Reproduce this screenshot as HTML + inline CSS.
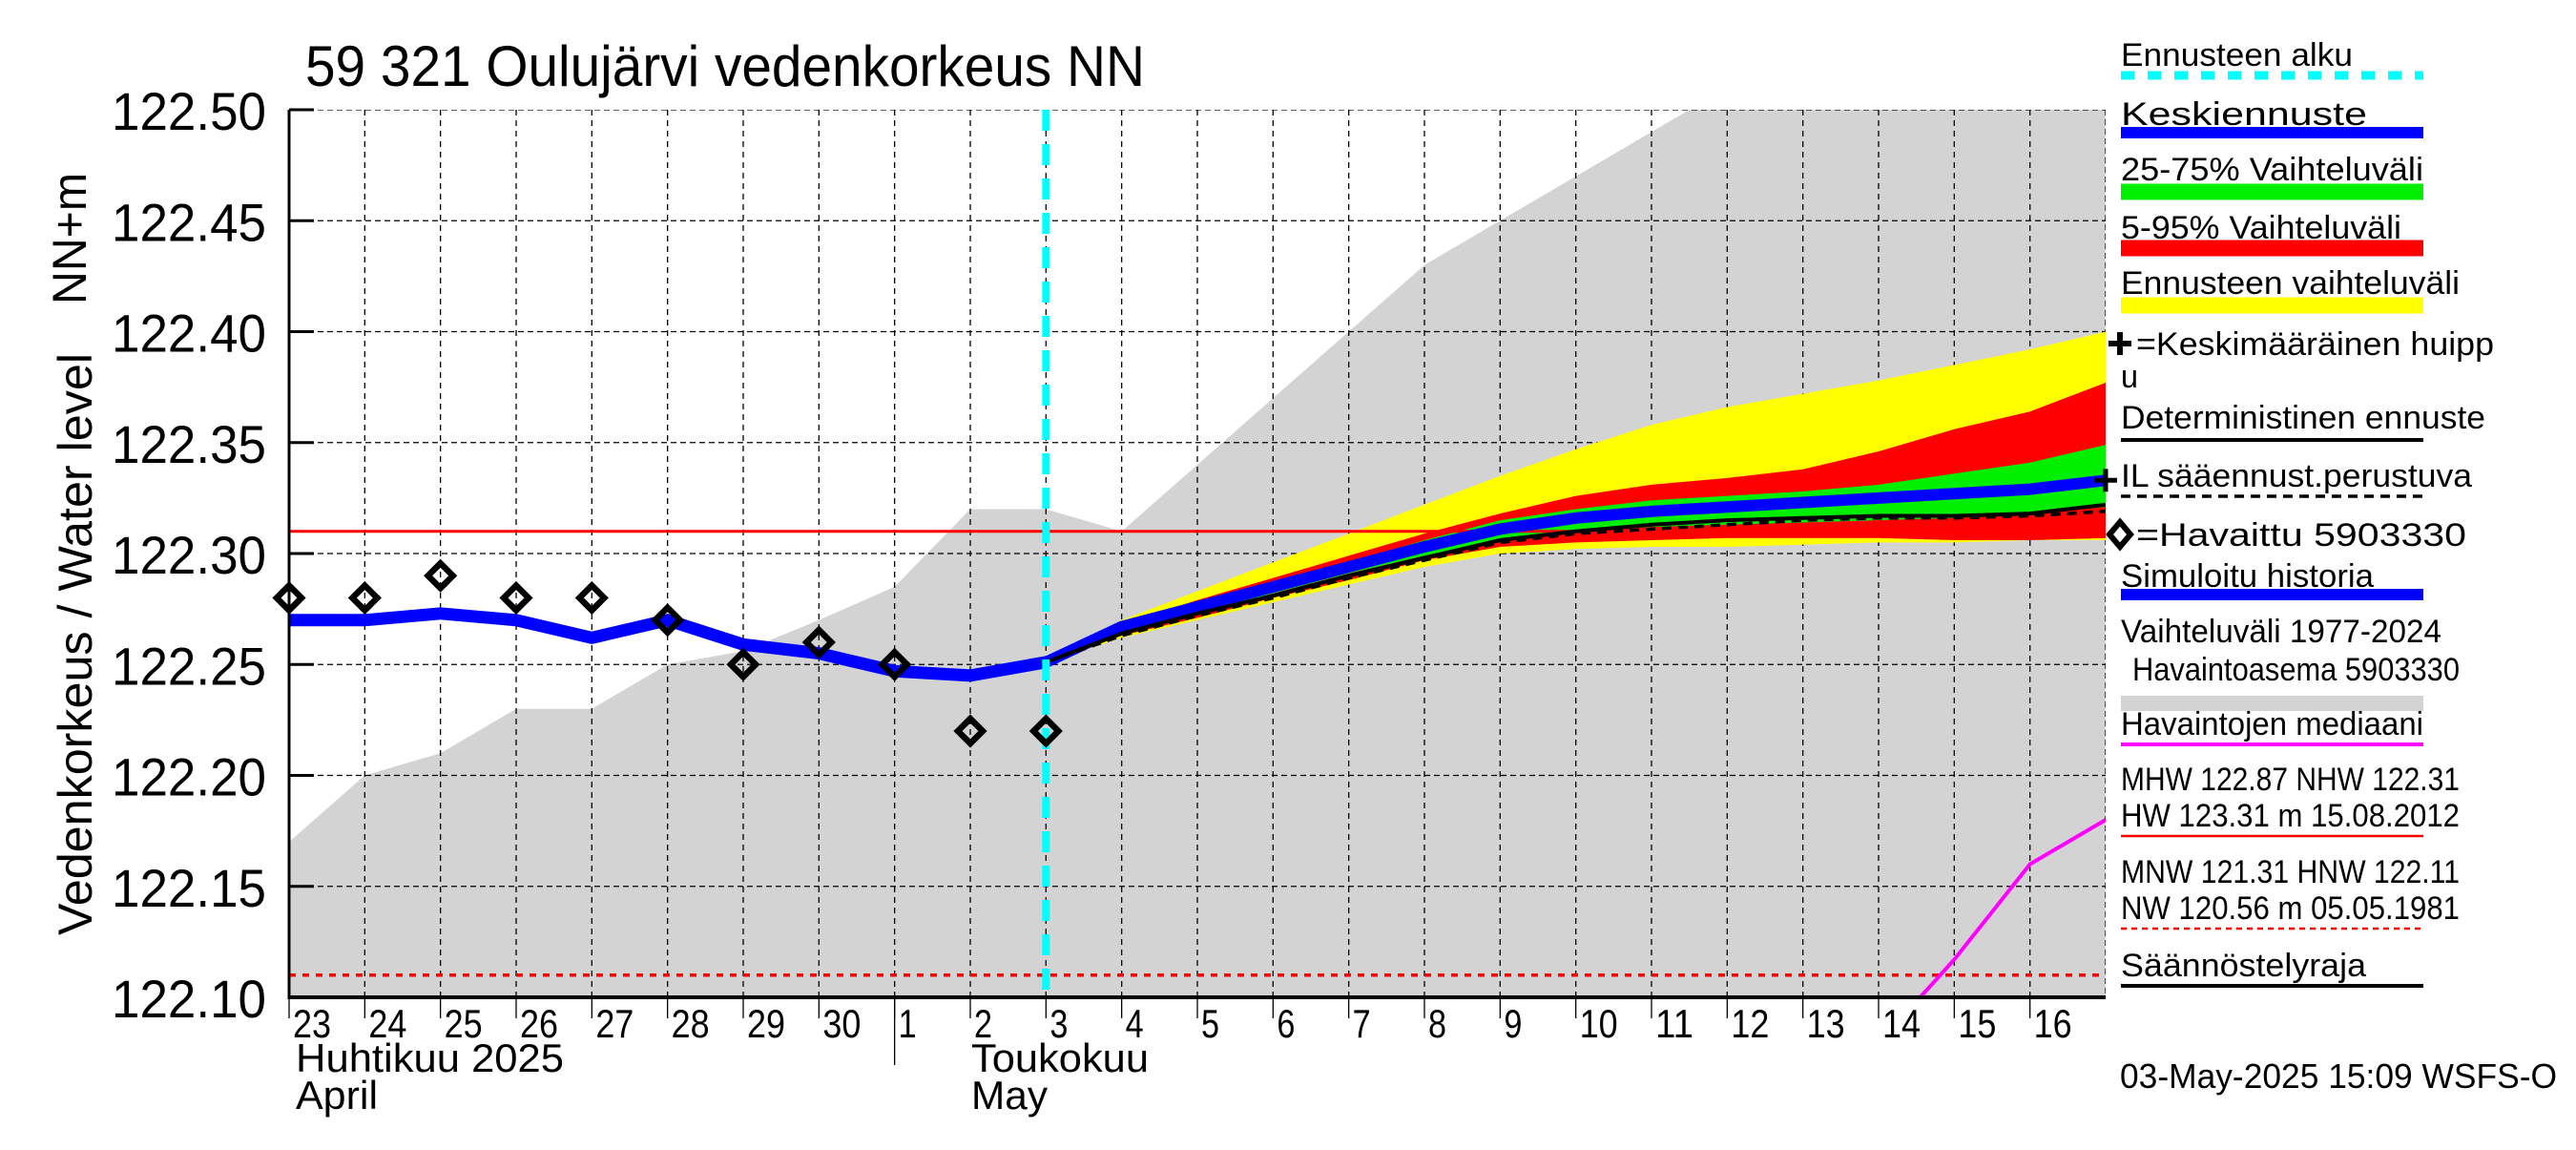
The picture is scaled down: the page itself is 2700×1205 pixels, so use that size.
<!DOCTYPE html>
<html><head><meta charset="utf-8"><style>
html,body{margin:0;padding:0;background:#fff;}
svg text{font-family:"Liberation Sans Narrow","Liberation Sans",sans-serif;fill:#000;}
</style></head><body>
<svg id="chart" width="2700" height="1200" viewBox="0 0 2700 1200" xmlns="http://www.w3.org/2000/svg">
<defs><clipPath id="plotclip"><rect x="303" y="115" width="1904" height="930"/></clipPath></defs>
<rect width="2700" height="1200" fill="#fff"/>
<text x="320" y="90" font-size="60" textLength="880" lengthAdjust="spacingAndGlyphs">59 321 Oulujärvi vedenkorkeus NN</text>
<g id="plot" clip-path="url(#plotclip)"></g>
<g id="axes"></g>
<g id="legend"></g>
<text transform="translate(96,675) rotate(-90)" text-anchor="middle" font-size="50" textLength="610" lengthAdjust="spacingAndGlyphs">Vedenkorkeus / Water level</text>
<text transform="translate(90,250) rotate(-90)" text-anchor="middle" font-size="50" textLength="138" lengthAdjust="spacingAndGlyphs">NN+m</text>
<text x="2222" y="1140" font-size="36" textLength="458" lengthAdjust="spacingAndGlyphs">03-May-2025 15:09 WSFS-O</text>
</svg>
<script>
// ---- data ----
const dayLabels = ["23","24","25","26","27","28","29","30","1","2","3","4","5","6","7","8","9","10","11","12","13","14","15","16"];
const yTicks = [122.10,122.15,122.20,122.25,122.30,122.35,122.40,122.45,122.50];
const obsValues = [122.28,122.28,122.29,122.28,122.28,122.27,122.25,122.26,122.25,122.22,122.22];
const simValues = [122.270,122.270,122.273,122.270,122.262,122.270,122.259,122.255,122.247,122.245,122.251];
const fcDays = [10,11,12,13,14,15,16,17,18,19,20,21,22,23,24];
const meanFc = [122.251,122.267,122.276,122.285,122.294,122.303,122.311,122.316,122.319,122.321,122.323,122.325,122.327,122.329,122.333];
const yellowMax = [122.251,122.270,122.283,122.296,122.309,122.322,122.335,122.347,122.358,122.366,122.372,122.378,122.385,122.392,122.400];
const yellowMin = [122.251,122.262,122.270,122.278,122.286,122.294,122.300,122.302,122.303,122.303,122.304,122.305,122.305,122.306,122.306];
const redMax = [122.251,122.268,122.279,122.289,122.299,122.309,122.318,122.326,122.331,122.334,122.338,122.346,122.356,122.364,122.377];
const redMin = [122.251,122.263,122.271,122.280,122.288,122.297,122.303,122.305,122.306,122.307,122.307,122.307,122.306,122.306,122.307];
const greenMax = [122.251,122.267,122.277,122.287,122.296,122.306,122.315,122.320,122.324,122.326,122.328,122.331,122.336,122.341,122.349];
const greenMin = [122.251,122.265,122.273,122.282,122.291,122.299,122.306,122.310,122.312,122.313,122.314,122.315,122.316,122.318,122.321];
const detFc = [122.251,122.264,122.273,122.281,122.290,122.298,122.306,122.310,122.313,122.315,122.316,122.317,122.317,122.318,122.322];
const ilFc = [122.251,122.263,122.272,122.280,122.289,122.297,122.305,122.309,122.311,122.313,122.315,122.316,122.316,122.317,122.319];
const envDays = [0,1,2,3,4,5,6,7,8,9,10,11,12,13,14,15,16,17,18,19,20,21,22,23,24];
const envUpper = [122.17,122.20,122.21,122.23,122.23,122.25,122.256,122.27,122.285,122.32,122.32,122.31,122.34,122.37,122.40,122.43,122.45,122.47,122.49,122.51,122.53,122.55,122.57,122.59,122.61];
const medianDays = [21.55,22,23,24];
const medianValues = [122.10,122.117,122.16,122.18];
const nhwLevel = 122.31;
const regLevel = 122.11;
const forecastStart = 10;
const nDays = 24;

// ---- axes ----
const X0=303, X1=2207, Y0=115, Y1=1045;
const vMin=122.10, vMax=122.50;
function xs(d){return X0 + d*(X1-X0)/nDays;}
function ys(v){return Y1 - (v-vMin)*(Y1-Y0)/(vMax-vMin);}
const NS="http://www.w3.org/2000/svg";
function mk(tag, attrs, parent){const e=document.createElementNS(NS,tag);for(const k in attrs)e.setAttribute(k,attrs[k]);parent.appendChild(e);return e;}
const plot=document.getElementById('plot'), axes=document.getElementById('axes'), legend=document.getElementById('legend');
function pts(days, vals){return days.map((d,i)=>xs(d).toFixed(1)+','+ys(vals[i]).toFixed(1)).join(' ');}
function band(days, hi, lo){return pts(days,hi)+' '+pts(days.slice().reverse(), lo.slice().reverse());}

let env = mk('polygon',{points: xs(0)+','+(Y1+5)+' '+pts(envDays,envUpper)+' '+xs(24)+','+(Y1+5), fill:'#d3d3d3'}, plot);


for(let i=1;i<nDays;i++){
  let g=mk('line',{x1:xs(i),x2:xs(i),y1:Y0,y2:Y1,stroke:'#000','stroke-width':1.3,'stroke-dasharray':'6,5'},plot);
  
  
}
yTicks.forEach(v=>{
  let g=mk('line',{x1:X0,x2:X1,y1:ys(v),y2:ys(v),stroke:'#000','stroke-width':1.3,'stroke-dasharray':'6,4'},plot);
  
  
});
let gr=mk('line',{x1:X1,x2:X1,y1:Y0,y2:Y1,stroke:'#000','stroke-width':1.3,'stroke-dasharray':'6,4'},plot);


let b1=mk('polygon',{points:band(fcDays,yellowMax,yellowMin),fill:'#ffff00'},plot);


let b2=mk('polygon',{points:band(fcDays,redMax,redMin),fill:'#ff0000'},plot);


let b3=mk('polygon',{points:band(fcDays,greenMax,greenMin),fill:'#00ee00'},plot);


let nhw=mk('line',{x1:X0,x2:X1,y1:ys(nhwLevel),y2:ys(nhwLevel),stroke:'#ff0000','stroke-width':3},plot);


let reg=mk('line',{x1:X0,x2:X1,y1:ys(regLevel),y2:ys(regLevel),stroke:'#ff0000','stroke-width':3.5,'stroke-dasharray':'7,7'},plot);


let med=mk('polyline',{points:pts(medianDays,medianValues),fill:'none',stroke:'#ff00ff','stroke-width':4},plot);


let sim=mk('polyline',{points:pts(obsValues.map((_,i)=>i),simValues),fill:'none',stroke:'#0000ff','stroke-width':13,'stroke-linejoin':'round'},plot);


let mean=mk('polyline',{points:pts(fcDays,meanFc),fill:'none',stroke:'#0000ff','stroke-width':12},plot);


let det=mk('polyline',{points:pts(fcDays,detFc),fill:'none',stroke:'#000','stroke-width':4},plot);


let il=mk('polyline',{points:pts(fcDays,ilFc),fill:'none',stroke:'#000','stroke-width':3.5,'stroke-dasharray':'10,7'},plot);


let fs=mk('line',{x1:xs(forecastStart),x2:xs(forecastStart),y1:Y0,y2:Y1,stroke:'#00ffff','stroke-width':8,'stroke-dasharray':'22,14'},plot);


obsValues.forEach((v,i)=>{
  const cx=xs(i), cy=ys(v), r=13;
  let d=mk('polygon',{points:`${cx},${cy-r} ${cx+r},${cy} ${cx},${cy+r} ${cx-r},${cy}`,fill:'none',stroke:'#000','stroke-width':6.5},axes);
  
  
});
{
  const cx=X1, cy=ys(meanFc[meanFc.length-1]);
  let p=mk('path',{d:`M${cx-12},${cy}H${cx+12}M${cx},${cy-12}V${cy+12}`,stroke:'#000','stroke-width':5},axes);
  
  
}
let ya=mk('line',{x1:X0,x2:X0,y1:Y0,y2:Y1+2,stroke:'#000','stroke-width':3},axes);


let xa=mk('line',{x1:X0,x2:X1,y1:Y1,y2:Y1,stroke:'#000','stroke-width':4},axes);


yTicks.forEach(v=>{
  let t=mk('line',{x1:X0,x2:X0+26,y1:ys(v),y2:ys(v),stroke:'#000','stroke-width':3},axes);
  
  
  let l=mk('text',{x:279,y:ys(v)+21,'text-anchor':'end','font-size':56,textLength:162,lengthAdjust:'spacingAndGlyphs'},axes);
  l.textContent=v.toFixed(2);
  
  
});
dayLabels.forEach((lab,i)=>{
  let t=mk('line',{x1:xs(i),x2:xs(i),y1:Y1,y2:Y1+22,stroke:'#000','stroke-width':1.3},axes);
  
  
  let l=mk('text',{x:xs(i)+4,y:1087,'font-size':42,textLength:lab.length>1?40:19,lengthAdjust:'spacingAndGlyphs'},axes);
  l.textContent=lab;
  
  
});
let ms=mk('line',{x1:xs(8),x2:xs(8),y1:Y1,y2:1116,stroke:'#000','stroke-width':1.3},axes);


[["Huhtikuu  2025",310,1123,281],["April",310,1162,86],["Toukokuu",1018,1123,186],["May",1018,1162,80]].forEach(a=>{
  let l=mk('text',{x:a[1],y:a[2],'font-size':42,textLength:a[3],lengthAdjust:'spacingAndGlyphs','xml:space':'preserve'},axes);
  l.textContent=a[0];
  
  
});
const LX=2223, LX2=2540;
function ltext(s,x,y,w,name){let t=mk('text',{x:x,y:y,'font-size':34,textLength:w,lengthAdjust:'spacingAndGlyphs'},legend);t.textContent=s;return t;}
function lline(y,color,w,dash,name){let a={x1:LX,x2:LX2,y1:y,y2:y,stroke:color,'stroke-width':w};if(dash)a['stroke-dasharray']=dash;let l=mk('line',a,legend);}
ltext("Ennusteen alku",LX,69,243,'legend-forecast-start'); lline(79,'#00ffff',9,'14,14','legend-forecast-start-swatch');
ltext("Keskiennuste",LX,131,258,'legend-mean-forecast'); lline(139,'#0000ff',12,null,'legend-mean-swatch');
ltext("25-75% Vaihteluväli",LX,189,317,'legend-25-75'); lline(201,'#00ee00',17,null,'legend-25-75-swatch');
ltext("5-95% Vaihteluväli",LX,250,294,'legend-5-95'); lline(260,'#ff0000',17,null,'legend-5-95-swatch');
ltext("Ennusteen vaihteluväli",LX,308,355,'legend-forecast-range'); lline(320,'#ffff00',17,null,'legend-forecast-range-swatch');
{let p=mk('path',{d:`M2210,360H2234M2222,348V372`,stroke:'#000','stroke-width':6},legend);}
ltext("=Keskimääräinen huipp",2239,372,375,'legend-mean-peak'); ltext("u",LX,406,18,'legend-mean-peak-wrap');
ltext("Deterministinen ennuste",LX,449,382,'legend-deterministic'); lline(461,'#000',4,null,'legend-deterministic-swatch');
ltext("IL sääennust.perustuva",LX,510,368,'legend-il'); lline(520,'#000',3.5,'10,7','legend-il-swatch');
{let d=mk('polygon',{points:`2222,547 2233,560 2222,573 2211,560`,fill:'none',stroke:'#000','stroke-width':6},legend);}
ltext("=Havaittu 5903330",2239,572,346,'legend-observed');
ltext("Simuloitu historia",LX,615,265,'legend-simulated'); lline(623,'#0000ff',12,null,'legend-simulated-swatch');
ltext("Vaihteluväli 1977-2024",LX,673,336,'legend-historical-range'); ltext("Havaintoasema 5903330",2235,713,343,'legend-station');
lline(737,'#d3d3d3',16,null,'legend-historical-swatch');
ltext("Havaintojen mediaani",LX,770,317,'legend-median'); lline(780,'#ff00ff',4,null,'legend-median-swatch');
ltext("MHW 122.87 NHW 122.31",LX,828,355,'legend-mhw'); ltext("HW 123.31 m 15.08.2012",LX,866,355,'legend-hw'); lline(876,'#ff0000',2.5,null,'legend-hw-swatch');
ltext("MNW 121.31 HNW 122.11",LX,925,355,'legend-mnw'); ltext("NW 120.56 m 05.05.1981",LX,963,355,'legend-nw'); lline(973,'#ff0000',2.5,'6,5','legend-nw-swatch');
ltext("Säännöstelyraja",LX,1023,257,'legend-regulation'); lline(1033,'#000',4,null,'legend-regulation-swatch');
</script>
</body></html>
